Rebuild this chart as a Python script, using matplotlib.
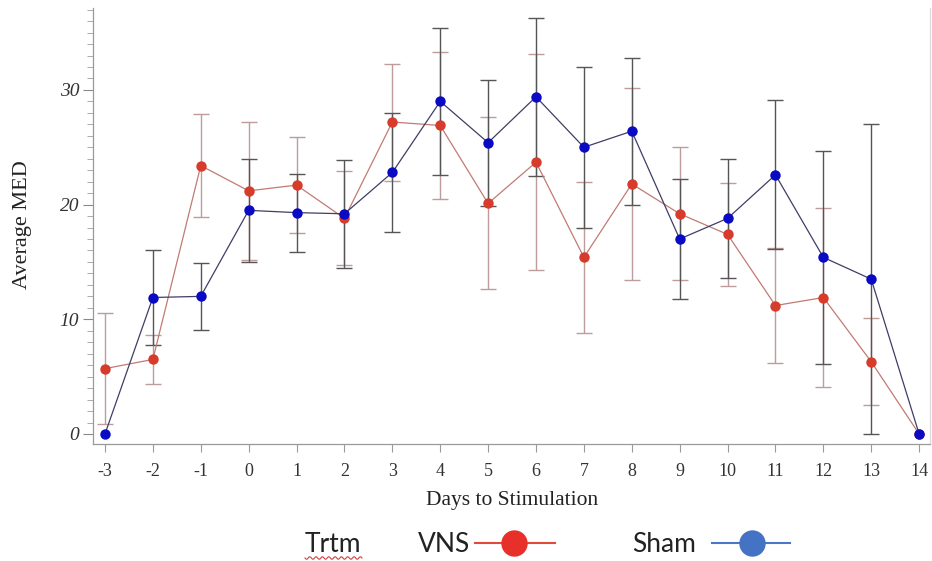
import numpy as np
import matplotlib
matplotlib.use("Agg")
import matplotlib.pyplot as plt
from matplotlib.lines import Line2D
from matplotlib.ticker import MultipleLocator

days = [-3, -2, -1, 0, 1, 2, 3, 4, 5, 6, 7, 8, 9, 10, 11, 12, 13, 14]
vns_mean = [5.7, 6.5, 23.4, 21.2, 21.7, 18.8, 27.2, 26.9, 20.1, 23.7, 15.4, 21.8, 19.2, 17.4, 11.2, 11.9, 6.3, 0.0]
vns_err = [4.85, 2.1, 4.5, 6.0, 4.2, 4.1, 5.1, 6.4, 7.5, 9.4, 6.6, 8.4, 5.8, 4.5, 5.0, 7.8, 3.8, 0.0]
sham_mean = [0.0, 11.9, 12.0, 19.5, 19.3, 19.2, 22.8, 29.0, 25.4, 29.4, 25.0, 26.4, 17.0, 18.8, 22.6, 15.4, 13.5, 0.0]
sham_err = [0.0, 4.1, 2.9, 4.5, 3.4, 4.7, 5.2, 6.4, 5.5, 6.9, 7.0, 6.4, 5.2, 5.2, 6.5, 9.3, 13.5, 0.0]
x_label = "Days to Stimulation"
y_label = "Average MED"
legend_title = "Trtm"
series_names = ["VNS", "Sham"]

fig = plt.figure(figsize=(9.32, 5.61), dpi=100)
ax = fig.add_axes([0.0998, 0.2086, 0.8982, 0.7771])

vx = np.array(days, float)
vm = np.array(vns_mean)
ve = np.array(vns_err)
sm = np.array(sham_mean)
se = np.array(sham_err)

mask_v = ve > 0
mask_s = se > 0
ax.errorbar(vx[mask_v], vm[mask_v], yerr=ve[mask_v], fmt='none', ecolor='#bf9c9c',
            elinewidth=1.0, capsize=5.5, capthick=1.0, zorder=2)
ax.errorbar(vx[mask_s], sm[mask_s], yerr=se[mask_s], fmt='none', ecolor='#555555',
            elinewidth=1.0, capsize=5.5, capthick=1.0, zorder=2)

ax.plot(vx, vm, color='#c27a72', lw=0.9, zorder=3)
ax.plot(vx, vm, 'o', color='#d63b2c', ms=7.5, mec='none', zorder=4)
ax.plot(vx, sm, color='#3e3e66', lw=0.9, zorder=5)
ax.plot(vx, sm, 'o', color='#0a0ac4', ms=7.5, mec='none', zorder=6)

ax.set_xlim(-3.25, 14.23)
ax.set_ylim(-0.87, 37.14)
ax.set_xticks(days)
ax.set_xticklabels([str(d) for d in days], fontfamily='Liberation Serif', fontsize=13, color='#333333')
ax.set_yticks([0, 10, 20, 30])
ax.set_yticklabels(['0', '10', '20', '30'], fontfamily='Liberation Serif', fontstyle='italic',
                   fontsize=14, color='#333333')
ax.yaxis.set_minor_locator(MultipleLocator(1))
ax.tick_params(axis='x', direction='out', length=6, width=0.8, color='#999999', pad=8)
ax.tick_params(axis='y', which='major', direction='out', length=7, width=0.8, color='#888888', pad=3)
ax.tick_params(axis='y', which='minor', direction='out', length=4, width=0.7, color='#aaaaaa')

for s in ['left', 'bottom']:
    ax.spines[s].set_color('#999999')
    ax.spines[s].set_linewidth(0.9)
ax.spines['right'].set_color('#dddddd')
ax.spines['right'].set_linewidth(1.0)
ax.spines['top'].set_visible(False)

fig.text(0.549, 0.108, x_label, ha='center', va='center', fontfamily='Liberation Serif',
         fontsize=15.5, color='#222222')
fig.text(0.024, 0.60, y_label, ha='center', va='center', rotation=90,
         fontfamily='Liberation Serif', fontsize=16, color='#222222')

# legend at bottom
W, H = 932, 561
def fx(px):
    return px / W
def fy(py):
    return 1 - py / H

fig.text(fx(305), fy(552), legend_title, ha='left', va='baseline', fontfamily='Lato',
         fontsize=19, color='#222222')
wx = np.linspace(305, 362, 60)
wy = 558 + 1.3 * np.sin((wx - 305) / 57 * 2 * np.pi * 9)
fig.add_artist(Line2D(fx(wx), fy(wy), color='#d04040', lw=0.8))

fig.text(fx(418), fy(552), series_names[0], ha='left', va='baseline', fontfamily='Lato',
         fontsize=19, color='#222222')
fig.add_artist(Line2D([fx(475), fx(555)], [fy(543), fy(543)], color='#e04a3a', lw=1.5))
fig.add_artist(Line2D([fx(514)], [fy(543)], marker='o', ms=19, color='#e8302a', mec='none'))

fig.text(fx(632), fy(552), series_names[1], ha='left', va='baseline', fontfamily='Lato',
         fontsize=19, color='#222222')
fig.add_artist(Line2D([fx(712), fx(790)], [fy(543), fy(543)], color='#4a78c8', lw=1.5))
fig.add_artist(Line2D([fx(752)], [fy(543)], marker='o', ms=19, color='#4472c4', mec='none'))

fig.savefig('out.png', dpi=100)
